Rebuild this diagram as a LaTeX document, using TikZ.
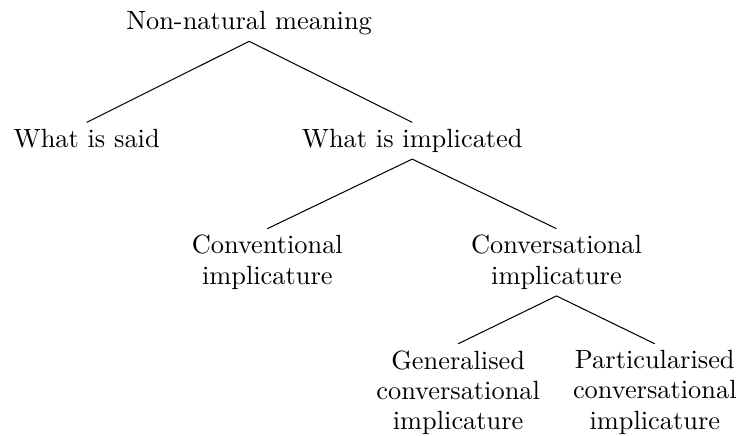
\documentclass[tikz,border=0pt]{standalone}
\usepackage{tikz}
\newcommand{\lw}{10.146}
\newcommand{\lh}{5.986}
\tikzstyle{term}=[align=center, inner sep=2.4pt, font=\fontsize{10.3pt}{11.8pt}\selectfont]
\tikzstyle{branche}=[line width=0.4pt]

\begin{document}
\begin{tikzpicture}

\useasboundingbox (0,0) rectangle (\lw,-\lh);

\node[term, anchor=south] (nnm) at (3.42,-0.567) {Non-natural meaning};

\node[term, anchor=north] (dit) at (1.19,-1.68) {What is said};
\node[term, anchor=north] (impl) at (5.66,-1.68) {What is implicated};

\node[term, anchor=north] (conv) at (3.67,-3.14) {Conventional\\implicature};
\node[term, anchor=north] (conversa) at (7.64,-3.14) {Conversational\\implicature};

\node[term, anchor=north] (gen) at (6.29,-4.72) {Generalised\\conversational\\implicature};
\node[term, anchor=north] (part) at (8.99,-4.72) {Particularised\\conversational\\implicature};

\foreach \a/\b in {nnm/dit, nnm/impl, impl/conv, impl/conversa, conversa/gen, conversa/part}
\draw[branche] (\a.south) -- (\b.north);

      \end{tikzpicture}
\end{document}
